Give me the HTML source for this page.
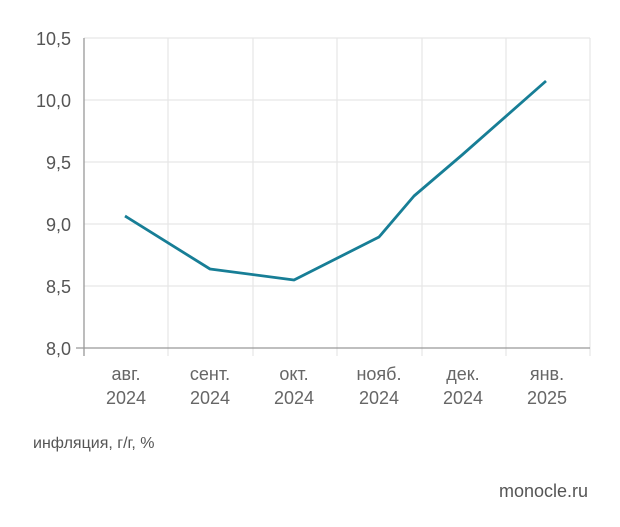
<!DOCTYPE html>
<html><head><meta charset="utf-8"><style>
body{margin:0;background:#fff;}
svg{display:block;font-family:"Liberation Sans","DejaVu Sans",sans-serif;}
</style></head><body>
<svg width="620" height="527" viewBox="0 0 620 527">
<g stroke="#e6e6e6" stroke-width="1.2">
<line x1="84" y1="38" x2="590" y2="38"/>
<line x1="84" y1="100" x2="590" y2="100"/>
<line x1="84" y1="162" x2="590" y2="162"/>
<line x1="84" y1="224" x2="590" y2="224"/>
<line x1="84" y1="286" x2="590" y2="286"/>
<line x1="168" y1="38" x2="168" y2="356"/>
<line x1="253" y1="38" x2="253" y2="356"/>
<line x1="337" y1="38" x2="337" y2="356"/>
<line x1="422" y1="38" x2="422" y2="356"/>
<line x1="506" y1="38" x2="506" y2="356"/>
<line x1="590" y1="38" x2="590" y2="356"/>
</g>
<line x1="84" y1="38" x2="84" y2="356" stroke="#999" stroke-width="1.3"/>
<line x1="76" y1="348" x2="590" y2="348" stroke="#999" stroke-width="1.3"/>
<g fill="#555" font-size="18" text-anchor="end">
<text x="71" y="45">10,5</text>
<text x="71" y="107">10,0</text>
<text x="71" y="169">9,5</text>
<text x="71" y="231">9,0</text>
<text x="71" y="293">8,5</text>
<text x="71" y="355">8,0</text>
</g>
<g fill="#666" font-size="18" text-anchor="middle">
<text x="126" y="380">авг.</text><text x="126" y="404">2024</text>
<text x="210" y="380">сент.</text><text x="210" y="404">2024</text>
<text x="294" y="380">окт.</text><text x="294" y="404">2024</text>
<text x="379" y="380">нояб.</text><text x="379" y="404">2024</text>
<text x="463" y="380">дек.</text><text x="463" y="404">2024</text>
<text x="547" y="380">янв.</text><text x="547" y="404">2025</text>
</g>
<polyline points="125,216 210,269 294,280 379,237 414,196 462,155 546,81" fill="none" stroke="#177e96" stroke-width="2.8" stroke-linejoin="round"/>
<text x="33" y="448" fill="#555" font-size="16">инфляция, г/г, %</text>
<text x="588" y="497" fill="#555" font-size="18" text-anchor="end">monocle.ru</text>
</svg>
</body></html>
